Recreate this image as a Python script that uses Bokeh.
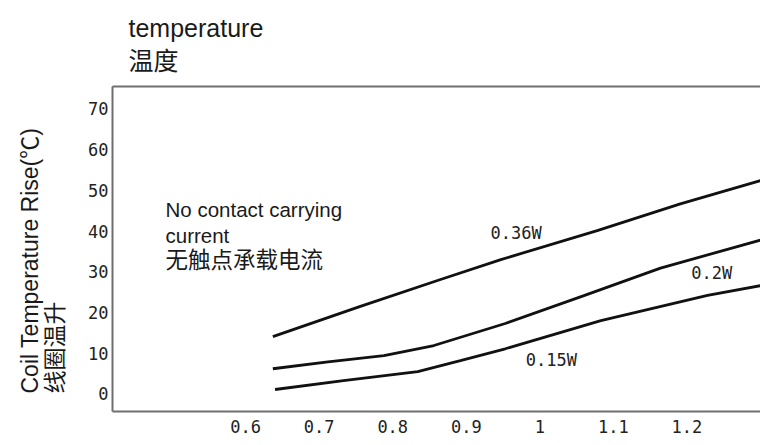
from bokeh.plotting import figure
from bokeh.models import Label, FixedTicker, LinearAxis, Range1d, Title
from bokeh.embed import file_html
from bokeh.resources import INLINE

# ---- data ----
x_ticks = [0.6, 0.7, 0.8, 0.9, 1.0, 1.1, 1.2]
x_tick_labels = ["0.6", "0.7", "0.8", "0.9", "1", "1.1", "1.2"]
y_ticks = [0, 10, 20, 30, 40, 50, 60, 70]
y_tick_labels = ["0", "10", "20", "30", "40", "50", "60", "70"]

x_036 = [0.637, 0.756, 0.865, 0.947, 1.078, 1.191, 1.300]
y_036 = [14.1, 21.5, 28.1, 33.0, 40.1, 46.7, 52.4]

x_02 = [0.637, 0.712, 0.788, 0.856, 0.953, 1.059, 1.164, 1.300]
y_02 = [6.2, 7.9, 9.4, 11.9, 17.3, 24.1, 30.9, 37.8]

x_015 = [0.640, 0.733, 0.834, 0.892, 0.953, 1.083, 1.228, 1.300]
y_015 = [1.1, 3.3, 5.5, 8.2, 11.1, 18.0, 24.2, 26.6]

series_names = ["0.36W", "0.2W", "0.15W"]

title_lines = ["temperature", "温度"]
ylabel_lines = ["Coil Temperature Rise(℃)", "线圈温升"]
note_lines = ["No contact carrying", "current", "无触点承载电流"]

# ---- figure ----
p = figure(width=760, height=445, output_backend="svg", toolbar_location=None,
           x_range=Range1d(0.419, 1.30), y_range=Range1d(-4.3, 75.5),
           min_border_left=112, min_border_top=86, min_border_right=0,
           min_border_bottom=34, title_location=None)
p.outline_line_color = None
p.grid.visible = False
p.background_fill_color = "white"
p.border_fill_color = "white"

mono = "DejaVu Sans Mono"
sans = "Liberation Sans"
cjk = "Noto Sans CJK SC"
mixed = "Liberation Sans, Noto Sans CJK SC"
frame_col = "#6e6e6e"
txt = "#1a1a1a"

p.xaxis.ticker = FixedTicker(ticks=x_ticks)
p.xaxis.major_label_overrides = {t: l for t, l in zip(x_ticks, x_tick_labels)}
p.yaxis.ticker = FixedTicker(ticks=y_ticks)
p.yaxis.major_label_overrides = {t: l for t, l in zip(y_ticks, y_tick_labels)}
for ax in (p.xaxis, p.yaxis):
    ax.major_tick_line_color = None
    ax.minor_tick_line_color = None
    ax.major_tick_out = 0
    ax.major_tick_in = 0
    ax.axis_line_color = frame_col
    ax.axis_line_width = 2
    ax.major_label_text_font = mono
    ax.major_label_text_font_size = "17px"
    ax.major_label_text_color = "#222222"
p.xaxis.major_label_standoff = 8
p.yaxis.major_label_standoff = 4

top_axis = LinearAxis(ticker=FixedTicker(ticks=[]), axis_line_color=frame_col,
                      axis_line_width=2, major_tick_line_color=None,
                      minor_tick_line_color=None, major_label_text_font_size="0px",
                      major_tick_out=0, major_tick_in=0)
p.add_layout(top_axis, "above")

# two-line title above the frame
p.add_layout(Title(text="\n".join(title_lines), align="left", offset=16, text_font=mixed,
                   text_font_size="25px", text_font_style="normal",
                   text_color=txt, standoff=23, text_line_height=1.17), "above")

# two-line y-axis title, both lines starting at the bottom
p.add_layout(Title(text="\n".join(ylabel_lines), align="left", offset=18, text_font=mixed,
                   text_font_size="23px", text_font_style="normal",
                   text_color=txt, standoff=31, text_line_height=0.96,
                   vertical_align="top"), "left")

for xs, ys in ((x_036, y_036), (x_02, y_02), (x_015, y_015)):
    p.line(xs, ys, line_color="#111111", line_width=2.8)

# series labels (data coordinates)
label_pos = {"0.36W": (0.933, 39.6), "0.2W": (1.206, 29.6), "0.15W": (0.981, 8.4)}
for name in series_names:
    lx, ly = label_pos[name]
    p.add_layout(Label(x=lx, y=ly, text=name, text_font=mono, text_font_size="17px",
                       text_color="#222222", text_baseline="middle"))

# note inside the frame (screen units relative to the frame)
p.add_layout(Label(x=53, y=202, x_units="screen", y_units="screen", text=note_lines[0],
                   text_font=sans, text_font_size="20.5px", text_color=txt,
                   text_baseline="alphabetic"))
p.add_layout(Label(x=53, y=176, x_units="screen", y_units="screen", text=note_lines[1],
                   text_font=sans, text_font_size="20.5px", text_color=txt,
                   text_baseline="alphabetic"))
p.add_layout(Label(x=53, y=154, x_units="screen", y_units="screen", text=note_lines[2],
                   text_font=cjk, text_font_size="22.5px", text_color=txt,
                   text_baseline="middle"))

open("out.html", "w").write(file_html(p, INLINE))
